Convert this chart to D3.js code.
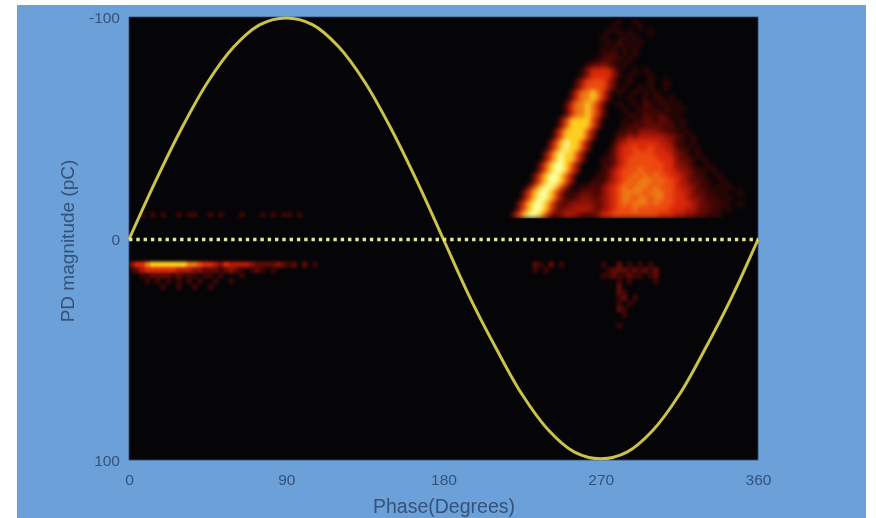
<!DOCTYPE html>
<html>
<head>
<meta charset="utf-8">
<script src="https://cdn.jsdelivr.net/npm/d3@7"></script>
<style>
html,body{margin:0;padding:0;background:#fff;}
svg{display:block;}
text{font-family:"Liberation Sans",Arial,sans-serif;}
</style>
</head>
<body>
<div id="chart"></div>
<script>
// Axis ticks and titles
const phaseTicks = [0, 90, 180, 270, 360];
const magnitudeTicks = [-100, 0, 100];
const xTitle = "Phase(Degrees)";
const yTitle = "PD magnitude (pC)";

// Reference waveform, every 15 degrees
const wavePhase = [0,15,30,45,60,75,90,105,120,135,150,165,180,195,210,225,240,255,270,285,300,315,330,345,360];
const waveValue = [0,-26,-50,-71,-87,-97,-100,-97,-87,-71,-50,-26,0,26,49,70,86,96,99,96,86,70,49,26,0];

// Phase-resolved PD density (digit 0-9), 3 degrees by 2.5 pC per cell
const upperRightStart = {phase:216, magnitude:-100};
const upperRightRows = [
"000000000000000000000100100000000000000000000000",
"000000000000000000001000010000000000000000000000",
"000000000000000000010101000100000000000000000000",
"000000000000000000100010100000000000000000000000",
"000000000000000000010201010000000000000000000000",
"000000000000000000101010100000000000000000000000",
"000000000000000000112010100000000000000000000000",
"000000000000000001121101000000000000000000000000",
"000000000000000122321010000000000000000000000000",
"000000000000001355553100101000000000000000000000",
"000000000000001355553101000100000000000000000000",
"000000000000024666642001000100100000000000000000",
"000000000000024666642010010100100000000000000000",
"000000000000257787520100101010000000000000000000",
"000000000000257787520001001011010000000000000000",
"000000000002577875200100102101101000000000000000",
"000000000002577875200010011110110100000000000000",
"000000000002577875200001102112101000000000000000",
"000000000036888863000010112212210100000000000000",
"000000000036888863000011212222120100000000000000",
"000000000368888630000112133332211010000000000000",
"000000000368888630000224344444332101000000000000",
"000000003689886300001345555554431101000000000000",
"000000003689886300002455655655442110100000000000",
"000000036898863000012455666655543210100000000000",
"000000036898863000112456666665553221010000000000",
"000000368998630000112456666666553321001000000000",
"000000368998630000124566676666554332110100000000",
"000003689986300001124566767676655432110010000000",
"000003689986300011134567677767665432211001000000",
"000036899863001121345676777676665443211010100000",
"000368998631112221345677776777665543221101001000",
"000368998631123322345677677677665543321110100000",
"003689986322333332345676777676665554322111001000",
"003689986323344432345666766666655544322110100000",
"036899863234432223556666666665554433221110000000"
];

const upperLeftStart = {phase:0, magnitude:-12.5};
const upperLeftRows = [
"00101010010110010100010001010110100000"
];

const lowerLeftStart = {phase:0, magnitude:10};
const lowerLeftRows = [
"355788888887765543544443222232120201",
"124555555444332221232101210100000000",
"001122221211101101000100000000000000",
"000101010101010010010000000000000000",
"000000100100100100000000000000000000"
];

const lowerRightStart = {phase:216, magnitude:10};
const lowerRightRows = [
"000002102010000000100201010100000",
"000001010000000000012221212120000",
"000000000000000000112112110120000",
"000000000000000000000101000010000",
"000000000000000000000200000000000",
"000000000000000000000210000000000",
"000000000000000000000120100000000",
"000000000000000000000101000000000",
"000000000000000000000210000000000",
"000000000000000000000010000000000",
"000000000000000000000000000000000",
"000000000000000000000100000000000"
];

const densityColors = ["#050508","#3a0604","#5e0a05","#8a1006","#b51a08","#dc2a0a","#ee4a10","#ef7c16","#ffd020","#ffffa0"];
const cellPhase = 3, cellMagnitude = 2.5;

const W = 876, H = 518;
const panel = {x:17, y:5, w:849, h:513};
const plot = {l:129, r:758, t:17, b:460};

const x = d3.scaleLinear().domain([0,360]).range([plot.l, plot.r]);
const y = d3.scaleLinear().domain([-100,100]).range([18, 461]);
const color = d3.scaleOrdinal().domain(d3.range(10)).range(densityColors);

const svg = d3.select("#chart").append("svg").attr("width",W).attr("height",H);
const defs = svg.append("defs");
function blurFilter(id, sd){
  defs.append("filter").attr("id",id).attr("filterUnits","userSpaceOnUse")
    .attr("x",0).attr("y",0).attr("width",W).attr("height",H)
    .attr("color-interpolation-filters","sRGB")
    .append("feGaussianBlur").attr("stdDeviation",sd);
}
blurFilter("soft",2.4);
blurFilter("softer",1.5);
blurFilter("textBlur",0.55);
blurFilter("lineBlur",0.45);
defs.append("clipPath").attr("id","upperClip").append("rect")
  .attr("x",plot.l).attr("y",plot.t).attr("width",plot.r-plot.l).attr("height",y(-10)-plot.t+1);
defs.append("clipPath").attr("id","plotClip").append("rect")
  .attr("x",plot.l).attr("y",plot.t).attr("width",plot.r-plot.l).attr("height",plot.b-plot.t);

svg.append("rect").attr("x",panel.x).attr("y",panel.y).attr("width",panel.w).attr("height",panel.h).attr("fill","#6ba0d8");
svg.append("rect").attr("x",plot.l).attr("y",plot.t).attr("width",plot.r-plot.l).attr("height",plot.b-plot.t)
  .attr("fill","#050508").attr("stroke","#2a4a70").attr("stroke-width",0.8);

function drawDensity(rows, start, parent, filterId){
  const cells = [];
  rows.forEach((row,r)=>{
    row.split("").forEach((ch,c)=>{
      if(+ch>0) cells.push({phase:start.phase+c*cellPhase, magnitude:start.magnitude+r*cellMagnitude, v:+ch});
    });
  });
  parent.append("g").attr("filter","url(#"+filterId+")")
    .selectAll("rect").data(cells).join("rect")
    .attr("x",d=>x(d.phase))
    .attr("y",d=>y(d.magnitude))
    .attr("width",x(cellPhase)-x(0)+0.5)
    .attr("height",y(cellMagnitude)-y(0)+0.5)
    .attr("fill",d=>color(d.v));
}
const upperGroup = svg.append("g").attr("clip-path","url(#upperClip)");
drawDensity(upperRightRows, upperRightStart, upperGroup, "soft");
drawDensity(upperLeftRows, upperLeftStart, upperGroup, "softer");
const lowerGroup = svg.append("g").attr("clip-path","url(#plotClip)");
drawDensity(lowerLeftRows, lowerLeftStart, lowerGroup, "softer");
drawDensity(lowerRightRows, lowerRightStart, lowerGroup, "softer");

const waveLine = d3.line().x(d=>x(d[0])).y(d=>y(d[1])).curve(d3.curveCatmullRom);
svg.append("path").datum(d3.zip(wavePhase,waveValue))
  .attr("d",waveLine).attr("fill","none").attr("stroke","#cbc24a").attr("stroke-width",3)
  .attr("filter","url(#lineBlur)");

svg.append("g").attr("filter","url(#lineBlur)").append("line")
  .attr("x1",x(0)).attr("x2",x(360)).attr("y1",y(0)).attr("y2",y(0))
  .attr("stroke","#e9e88e").attr("stroke-width",3.4).attr("stroke-dasharray","3.4 3.9");

const textLayer = svg.append("g").attr("filter","url(#textBlur)");
const xAxis = textLayer.append("g").attr("transform",`translate(0,${plot.b})`)
  .call(d3.axisBottom(x).tickValues(phaseTicks).tickSize(0).tickPadding(14).tickFormat(String));
const yAxis = textLayer.append("g").attr("transform",`translate(${plot.l},0)`)
  .call(d3.axisLeft(y).tickValues(magnitudeTicks).tickSize(0).tickPadding(9).tickFormat(String));
[xAxis,yAxis].forEach(a=>{
  a.select(".domain").remove();
  a.selectAll("text").attr("fill","#35527a").attr("font-size",15.5).attr("font-family",'"Liberation Sans",Arial,sans-serif');
});
textLayer.append("text").attr("x",444).attr("y",513).attr("text-anchor","middle")
  .attr("fill","#35527a").attr("font-size",19.5).text(xTitle);
textLayer.append("text").attr("transform","translate(74,241) rotate(-90)").attr("text-anchor","middle")
  .attr("fill","#35527a").attr("font-size",19).text(yTitle);
</script>
</body>
</html>
